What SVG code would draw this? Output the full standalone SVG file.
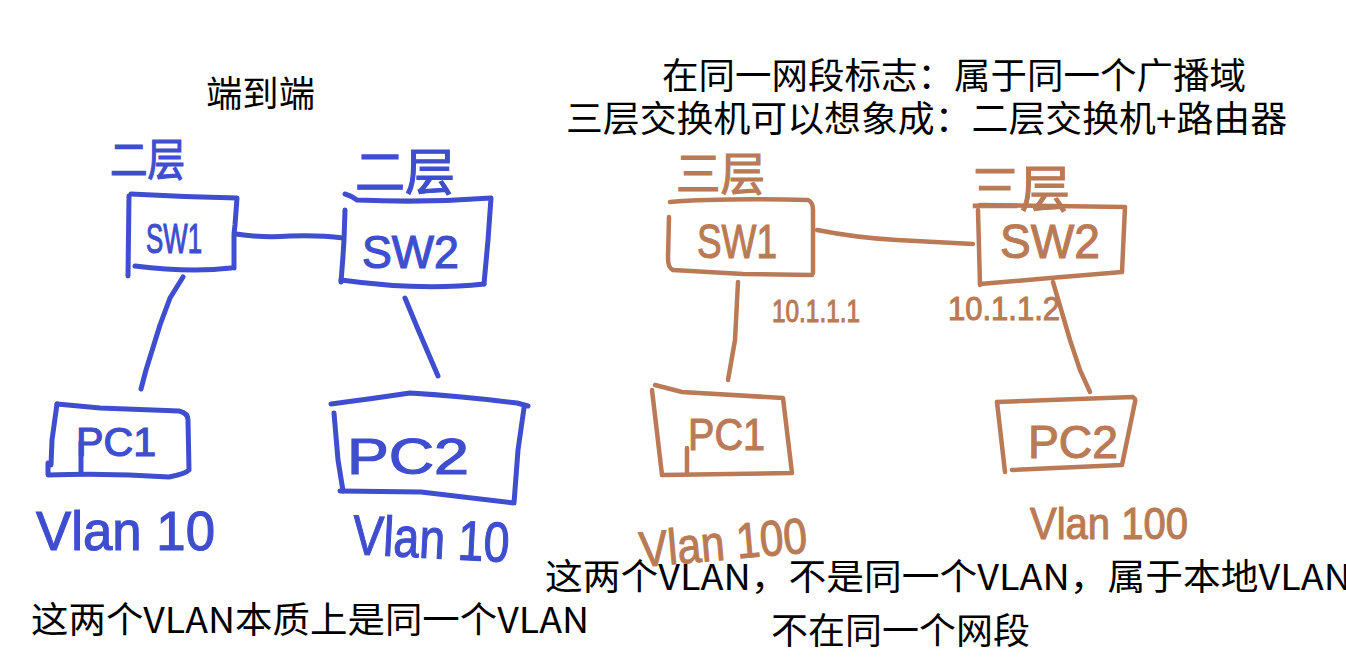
<svg xmlns="http://www.w3.org/2000/svg" width="1346" height="663" viewBox="0 0 1346 663">
<style>
.bg{fill:#ffffff}
.note{fill:#000000;font-family:"Noto Sans CJK SC","Liberation Sans",sans-serif;font-size:36px}
.sb{fill:none;stroke:#3f4ecf;stroke-width:5;stroke-linecap:round;stroke-linejoin:round}
.sn{fill:none;stroke:#b97a55;stroke-width:4.5;stroke-linecap:round;stroke-linejoin:round}
.hb{fill:#3f4ecf;stroke:#3f4ecf;stroke-width:1.2;font-family:"Liberation Sans","Noto Sans CJK SC",sans-serif}
.hn{fill:#b97a55;stroke:#b97a55;stroke-width:1.1;font-family:"Liberation Sans","Noto Sans CJK SC",sans-serif}
.cjk{font-family:"Noto Sans CJK SC",sans-serif}
</style>
<rect class="bg" x="0" y="0" width="1346" height="663"/>

<g id="notes">
<text class="note" x="206" y="107" textLength="109" lengthAdjust="spacingAndGlyphs">端到端</text>
<text class="note"><tspan x="662" y="89" textLength="584" lengthAdjust="spacingAndGlyphs">在同一网段标志：属于同一个广播域</tspan><tspan x="566" y="132" textLength="721" lengthAdjust="spacingAndGlyphs">三层交换机可以想象成：二层交换机+路由器</tspan></text>
<text class="note" x="545" y="590" textLength="806" lengthAdjust="spacingAndGlyphs">这两个VLAN，不是同一个VLAN，属于本地VLAN</text>
<text class="note" x="31" y="633" textLength="558" lengthAdjust="spacingAndGlyphs">这两个VLAN本质上是同一个VLAN</text>
<text class="note" x="771" y="644" textLength="259" lengthAdjust="spacingAndGlyphs">不在同一个网段</text>
</g>

<g id="connectors">
<path class="sb" d="M236,234 Q262,238 290,236 Q320,235 343,238"/>
<path class="sb" d="M183,277 L170,298 L160,325 L146,370 L141,389"/>
<path class="sb" d="M405,298 L417,327 L429,355 L438,376"/>
<path class="sn" d="M817,230 Q858,238 897,240 L973,244"/>
<path class="sn" d="M738,282 L735,340 L728,380"/>
<path class="sn" d="M1053,282 L1070,340 L1080,370 L1090,392"/>
</g>

<g id="blue-sw1">
<text class="hb cjk" x="110" y="176" font-size="44" textLength="75" lengthAdjust="spacingAndGlyphs">二层</text>
<path class="sb" d="M131,194 Q185,197 237,198 L235,225 L234,234 L234,268"/>
<path class="sb" d="M135,266 Q190,273 231,268"/>
<path class="sb" d="M129,196 L128,276"/>
<text class="hb" x="146" y="253" font-size="42" textLength="56" lengthAdjust="spacingAndGlyphs">SW1</text>
</g>

<g id="blue-sw2">
<text class="hb cjk" x="355" y="190" font-size="50" textLength="100" lengthAdjust="spacingAndGlyphs">二层</text>
<path class="sb" d="M345,194 Q352,196 357,200 Q425,203 491,198 L488,240 L484,284"/>
<path class="sb" d="M341,280 Q420,291 484,284"/>
<path class="sb" d="M345,210 L344,240 L343,256 L341,282"/>
<text class="hb" x="362" y="268" font-size="46" textLength="97" lengthAdjust="spacingAndGlyphs">SW2</text>
</g>

<g id="blue-pc1">
<path class="sb" d="M57,404 L100,408 L179,411 Q188,413 188,420 L189,470 Q185,474 169,477 Q110,473 48,475 L48,463"/>
<path class="sb" d="M57,404 L52,440 L51,465"/>
<path class="sb" d="M81,442 L81,472"/>
<text class="hb" x="76" y="456" font-size="40" textLength="80" lengthAdjust="spacingAndGlyphs">PC1</text>
<text class="hb" x="36" y="550" font-size="56" textLength="179" lengthAdjust="spacingAndGlyphs">Vlan 10</text>
</g>

<g id="blue-pc2">
<path class="sb" d="M331,404 Q370,399 410,393 Q460,396 517,403 L528,406"/>
<path class="sb" d="M524,408 L518,450 L514,503 L421,492 L340,491"/>
<path class="sb" d="M334,413 L338,460 L343,491"/>
<text class="hb" x="347" y="474" font-size="50" textLength="122" lengthAdjust="spacingAndGlyphs">PC2</text>
<text class="hb" x="352" y="558" font-size="56" textLength="157" lengthAdjust="spacingAndGlyphs" transform="rotate(3 430 550)">Vlan 10</text>
</g>

<g id="brown-sw1">
<text class="hn cjk" x="676" y="190" font-size="46" textLength="89" lengthAdjust="spacingAndGlyphs">三层</text>
<path class="sn" d="M670,202 Q720,198 808,200 Q813,202 813,210 L813,273"/>
<path class="sn" d="M673,270 L743,274 L812,275"/>
<path class="sn" d="M669,217 L668,258 Q668,268 673,270"/>
<text class="hn" x="697" y="258" font-size="48" textLength="80" lengthAdjust="spacingAndGlyphs">SW1</text>
<text class="hn" x="772" y="322" font-size="32" textLength="88" lengthAdjust="spacingAndGlyphs">10.1.1.1</text>
</g>

<g id="brown-sw2">
<text class="hn cjk" x="970" y="207" font-size="50" textLength="100" lengthAdjust="spacingAndGlyphs">三层</text>
<path class="sn" d="M980,205 L1125,207 L1122,272"/>
<path class="sn" d="M980,284 L1050,278 L1122,272"/>
<path class="sn" d="M978,210 L980,285"/>
<text class="hn" x="1000" y="258" font-size="48" textLength="100" lengthAdjust="spacingAndGlyphs">SW2</text>
<text class="hn" x="948" y="320" font-size="34" textLength="112" lengthAdjust="spacingAndGlyphs">10.1.1.2</text>
</g>

<g id="brown-pc1">
<path class="sn" d="M655,385 L682,392 L783,398 L792,473 L662,475"/>
<path class="sn" d="M652,390 L662,475"/>
<path class="sn" d="M687,448 L687,472"/>
<text class="hn" x="688" y="450" font-size="44" textLength="77" lengthAdjust="spacingAndGlyphs">PC1</text>
<text class="hn" x="641" y="567" font-size="50" textLength="168" lengthAdjust="spacingAndGlyphs" transform="rotate(-5 641 567)">Vlan 100</text>
</g>

<g id="brown-pc2">
<path class="sn" d="M997,402 L1133,397 Q1136,399 1135,402 L1122,465 L1012,470"/>
<path class="sn" d="M997,402 L1005,472"/>
<text class="hn" x="1028" y="458" font-size="46" textLength="90" lengthAdjust="spacingAndGlyphs">PC2</text>
<text class="hn" x="1030" y="539" font-size="44" textLength="158" lengthAdjust="spacingAndGlyphs">Vlan 100</text>
</g>
</svg>
